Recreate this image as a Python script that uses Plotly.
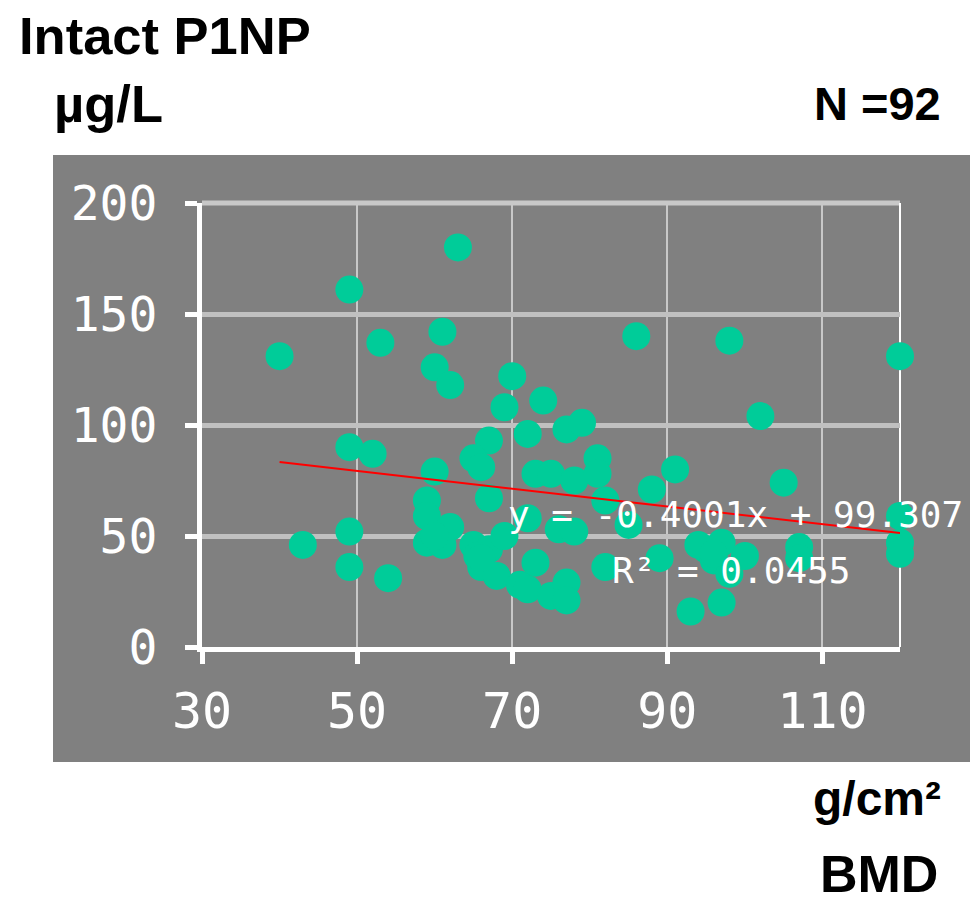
import plotly.graph_objects as go

# BMD (g/cm2) values
bmd = [40, 43, 49, 49, 49, 49, 52, 53, 54, 63, 61, 60, 62, 60, 59, 59, 62, 59, 61,
       70, 86, 69, 74, 72, 77, 79, 67, 65, 66, 73, 75, 78, 81, 81, 82, 88, 67, 72,
       76, 78, 85, 65, 67, 65.5, 66, 68, 71, 72, 73, 75, 77, 77, 82, 69, 98, 120,
       102, 91, 105, 120, 120, 120, 107, 107, 95, 97, 96, 100, 98, 89, 93, 97,
       94, 96, 60, 66]
# Intact P1NP (ug/L) values
p1np = [131, 46, 161, 90, 52, 36, 87, 137, 31, 180, 142, 126, 118, 79, 66, 59, 54, 47, 46,
        122, 140, 108, 111, 96, 98, 101, 93, 85, 81, 78, 78, 75, 85, 78, 66, 71, 67, 58,
        53, 52, 55, 46, 44, 41, 36, 32, 28, 26, 38, 23, 29, 21, 36, 50, 138, 131,
        104, 80, 74, 59, 47, 42, 45, 40, 44, 47, 39, 41, 33, 40, 16, 20,
        46, 42, 50, 40]

slope = -0.4001
intercept = 99.307
fit_x = [40, 120]
fit_y = [slope * v + intercept for v in fit_x]

x_ticks = [30, 50, 70, 90, 110]
y_ticks = [0, 50, 100, 150, 200]

W, H = 974, 903
ML, MR, MT, MB = 202, 74, 203, 256
PW, PH = W - ML - MR, H - MT - MB


def px2paper_x(px):
    return (px - ML) / PW


def px2paper_y(py):
    return (H - MB - py) / PH


fig = go.Figure()
fig.add_trace(go.Scatter(
    x=bmd, y=p1np, mode="markers", cliponaxis=False,
    marker=dict(color="#00CC99", size=28, line=dict(width=0)),
    showlegend=False, hoverinfo="x+y"))
fig.add_trace(go.Scatter(
    x=fit_x, y=fit_y, mode="lines", cliponaxis=False,
    line=dict(color="#FF0000", width=2), showlegend=False))

gray = "#808080"
bold = dict(family="Liberation Sans, Arial", color="black", weight="bold")
fig.update_layout(
    width=W, height=H,
    margin=dict(l=ML, r=MR, t=MT, b=MB),
    paper_bgcolor="white", plot_bgcolor=gray,
    shapes=[
        dict(type="rect", xref="paper", yref="paper",
             x0=px2paper_x(53), x1=px2paper_x(970),
             y0=px2paper_y(762), y1=px2paper_y(155),
             fillcolor=gray, line=dict(width=0), layer="below"),
        dict(type="line", xref="paper", yref="paper",
             x0=0, x1=1, y0=1, y1=1,
             line=dict(color="#C8C8C8", width=5), layer="below"),
        dict(type="line", xref="paper", yref="paper",
             x0=1, x1=1, y0=0, y1=1,
             line=dict(color="white", width=2), layer="below"),
    ],
    xaxis=dict(range=[30, 120], tickvals=x_ticks, ticktext=[str(v) for v in x_ticks],
               showgrid=True, gridcolor="#C8C8C8", gridwidth=2,
               showline=True, linecolor="white", linewidth=5,
               ticks="outside", ticklen=12, tickwidth=5, tickcolor="white",
               tickfont=dict(family="DejaVu Sans Mono", size=50, color="white"),
               ticklabelstandoff=4, zeroline=False),
    yaxis=dict(range=[0, 200], tickvals=y_ticks, ticktext=[str(v) for v in y_ticks],
               showgrid=True, gridcolor="#C0C0C0", gridwidth=5,
               showline=True, linecolor="white", linewidth=5,
               ticks="outside", ticklen=12, tickwidth=5, tickcolor="white",
               tickfont=dict(family="DejaVu Sans Mono", size=48, color="white"),
               ticklabelstandoff=18, zeroline=False),
    annotations=[
        dict(text="Intact P1NP", xref="paper", yref="paper",
             x=px2paper_x(17), y=px2paper_y(35), xanchor="left", yanchor="middle",
             showarrow=False, font=dict(size=52.5, **bold)),
        dict(text="µg/L", xref="paper", yref="paper",
             x=px2paper_x(52), y=px2paper_y(104), xanchor="left", yanchor="middle",
             showarrow=False, font=dict(size=52.5, **bold)),
        dict(text="N =92", xref="paper", yref="paper",
             x=px2paper_x(943), y=px2paper_y(104), xanchor="right", yanchor="middle",
             showarrow=False, font=dict(size=47, **bold)),
        dict(text="g/cm²", xref="paper", yref="paper",
             x=px2paper_x(943), y=px2paper_y(798), xanchor="right", yanchor="middle",
             showarrow=False, font=dict(size=48, **bold)),
        dict(text="BMD", xref="paper", yref="paper",
             x=px2paper_x(940), y=px2paper_y(874), xanchor="right", yanchor="middle",
             showarrow=False, font=dict(size=52, **bold)),
        dict(text="y = -0.4001x + 99.307", xref="paper", yref="paper",
             x=px2paper_x(506), y=px2paper_y(514), xanchor="left", yanchor="middle",
             showarrow=False,
             font=dict(family="DejaVu Sans Mono", size=36, color="white")),
        dict(text="R² = 0.0455", xref="paper", yref="paper",
             x=px2paper_x(610), y=px2paper_y(570), xanchor="left", yanchor="middle",
             showarrow=False,
             font=dict(family="DejaVu Sans Mono", size=36, color="white")),
    ],
)

fig.write_html("out.html")
